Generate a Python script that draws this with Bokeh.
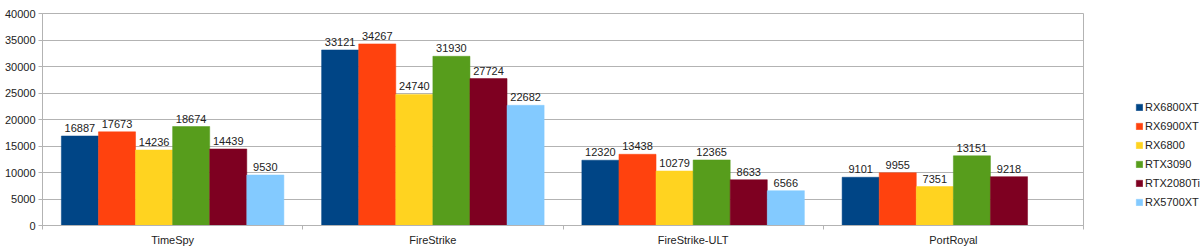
from bokeh.plotting import figure
from bokeh.models import ColumnDataSource, FixedTicker, Legend, LegendItem, Range1d
from bokeh.core.properties import value
from bokeh.embed import file_html
from bokeh.resources import INLINE
import math

categories = ["TimeSpy", "FireStrike", "FireStrike-ULT", "PortRoyal"]
series = ["RX6800XT", "RX6900XT", "RX6800", "RTX3090", "RTX2080Ti", "RX5700XT"]
RX6800XT = [16887, 33121, 12320, 9101]
RX6900XT = [17673, 34267, 13438, 9955]
RX6800 = [14236, 24740, 10279, 7351]
RTX3090 = [18674, 31930, 12365, 13151]
RTX2080Ti = [14439, 27724, 8633, 9218]
RX5700XT = [9530, 22682, 6566, float("nan")]
values = [RX6800XT, RX6900XT, RX6800, RTX3090, RTX2080Ti, RX5700XT]
colors = ["#004586", "#ff420e", "#ffd320", "#579d1c", "#7e0021", "#83caff"]
y_ticks = [0, 5000, 10000, 15000, 20000, 25000, 30000, 35000, 40000]

FONT = "Liberation Sans"
n_cat = len(categories)
bar_w = 0.1425

p = figure(width=1200, height=250, output_backend="svg", toolbar_location=None,
           x_range=Range1d(0, n_cat), y_range=Range1d(0, 40000),
           frame_width=1041, frame_height=212,
           min_border_left=42, min_border_right=0, min_border_top=13, min_border_bottom=25)
p.outline_line_color = "#b3b3b3"
p.background_fill_color = "white"
p.border_fill_color = "white"

items = []
for i, (name, vals, col) in enumerate(zip(series, values, colors)):
    xs, ys, labels = [], [], []
    for j, v in enumerate(vals):
        if v is None or (isinstance(v, float) and math.isnan(v)):
            continue
        xs.append(j + 0.5 + (i - 2.5) * bar_w)
        ys.append(v)
        labels.append(str(int(v)))
    src = ColumnDataSource(dict(x=xs, top=ys, label=labels))
    r = p.vbar(x="x", top="top", width=bar_w, bottom=0, source=src,
               fill_color=col, line_color=col, line_width=0.5)
    p.text(x="x", y="top", text="label", source=src, text_align="center",
           text_baseline="bottom", y_offset=-4, text_font=value(FONT),
           text_font_size="11px", text_color="#222222")
    items.append(LegendItem(label=name, renderers=[r]))

p.xgrid.grid_line_color = None
p.ygrid.grid_line_color = "#b3b3b3"
p.ygrid.grid_line_width = 1

p.xaxis.ticker = FixedTicker(ticks=[j + 0.5 for j in range(n_cat)],
                             minor_ticks=list(range(n_cat + 1)))
p.xaxis.major_label_overrides = {j + 0.5: c for j, c in enumerate(categories)}
p.xaxis.major_tick_out = 0
p.xaxis.major_tick_in = 0
p.xaxis.minor_tick_out = 4
p.xaxis.minor_tick_in = 0
p.xaxis.minor_tick_line_color = "#b3b3b3"
p.xaxis.axis_line_color = "#b3b3b3"
p.xaxis.major_label_standoff = 4

p.yaxis.ticker = FixedTicker(ticks=y_ticks, minor_ticks=[])
p.yaxis.major_tick_out = 4
p.yaxis.major_tick_in = 0
p.yaxis.major_tick_line_color = "#b3b3b3"
p.yaxis.axis_line_color = "#b3b3b3"
p.yaxis.major_label_standoff = 3
p.yaxis.formatter.use_scientific = False

for ax in (p.xaxis[0], p.yaxis[0]):
    ax.major_label_text_font = FONT
    ax.major_label_text_font_size = "11px"
    ax.major_label_text_color = "#222222"

legend = Legend(items=items, location=(52, 17), orientation="vertical",
                glyph_width=8, glyph_height=8, label_height=11, label_standoff=2,
                spacing=7, padding=0, margin=0, border_line_color=None,
                background_fill_alpha=0, label_text_font=FONT,
                label_text_font_size="11px", label_text_color="#222222",
                label_width=63)
p.add_layout(legend, "right")

open("out.html", "w").write(file_html(p, INLINE))
